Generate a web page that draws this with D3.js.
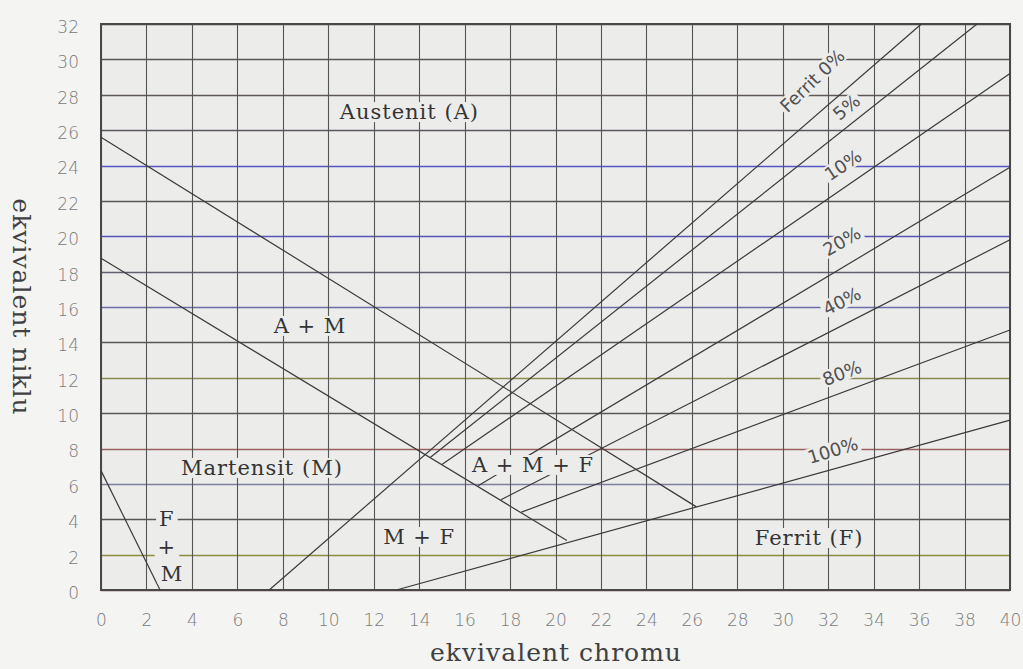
<!DOCTYPE html>
<html>
<head>
<meta charset="utf-8">
<script src="https://cdn.jsdelivr.net/npm/d3@7"></script>
<style>
  html, body { margin: 0; padding: 0; background: #f4f4f3; }
  svg { display: block; }
</style>
</head>
<body>
<svg id="chart" width="1023" height="669"></svg>
<script>
// Axis ticks
const xTicks = [0, 2, 4, 6, 8, 10, 12, 14, 16, 18, 20, 22, 24, 26, 28, 30, 32, 34, 36, 38, 40];
const yTicks = [0, 2, 4, 6, 8, 10, 12, 14, 16, 18, 20, 22, 24, 26, 28, 30, 32];

// Phase boundaries (chromium equivalent, nickel equivalent)
const austeniteBoundary = [[0, 25.6], [26.2, 4.7]];   // A | A+M
const martensiteBoundary = [[0, 18.75], [20.5, 2.8]]; // A+M | M
const ferriteMartensiteBoundary = [[0, 6.75], [2.6, 0]]; // M | F+M

// Iso-ferrite lines
const ferriteNames = ["0%", "5%", "10%", "20%", "40%", "80%", "100%"];
const ferriteStart = [[7.4, 0], [14.5, 7.5], [15.0, 7.1], [16.6, 5.9], [17.6, 5.1], [18.5, 4.4], [13.0, 0]];
const ferriteEnd = [[36.1, 32], [38.55, 32], [40, 29.2], [40, 23.9], [40, 19.8], [40, 14.7], [40, 9.6]];

// Region labels
const regionNames = ["Austenit (A)", "A + M", "Martensit (M)", "A + M + F", "M + F", "Ferrit (F)", "F", "+", "M"];
const regionPos = [[13.57, 27.02], [9.2, 14.93], [7.08, 6.9], [19.01, 7.07], [14.0, 3.0], [31.16, 2.94], [2.9, 4.0], [2.9, 2.43], [3.12, 0.9]];

// Iso-ferrite line labels
const ferriteLabels = ["Ferrit 0%", "5%", "10%", "20%", "40%", "80%", "100%"];
const ferriteLabelPos = [[31.3, 28.8], [32.8, 27.3], [32.65, 24.03], [32.6, 19.73], [32.6, 16.34], [32.6, 12.27], [32.2, 7.9]];
const ferriteLabelAngle = [-44, -40, -34, -30, -27, -21, -17];

const svg = d3.select("#chart");
const plotBg = "#ececeb";

const x = d3.scaleLinear().domain([0, 40]).range([101, 1010]);
const y = d3.scaleLinear().domain([0, 32]).range([590, 24]);
// snap grid lines to the pixel grid so thin tinted lines stay crisp
const crisp = v => Math.round(v) + 0.5;

// plot area
svg.append("rect")
  .attr("x", x(0)).attr("y", y(32))
  .attr("width", x(40) - x(0)).attr("height", y(0) - y(32))
  .attr("fill", plotBg);

// horizontal grid, slightly tinted per line
const hColors = ["#7a3444", "#8c8a3c", "#555555", "#7c7c9c", "#9a6060", "#575757", "#8c8a50",
                 "#575757", "#6c6ca8", "#625e72", "#5555b8", "#575757", "#5454c4", "#5c565e",
                 "#5e5856", "#575757", "#444444"];
svg.append("g").selectAll("line").data(yTicks).join("line")
  .attr("x1", x(0)).attr("x2", x(40))
  .attr("y1", d => crisp(y(d))).attr("y2", d => crisp(y(d)))
  .attr("stroke", (d, i) => hColors[i])
  .attr("stroke-width", 1.5);

// vertical grid
svg.append("g").selectAll("line").data(xTicks).join("line")
  .attr("x1", d => crisp(x(d))).attr("x2", d => crisp(x(d)))
  .attr("y1", y(0)).attr("y2", y(32))
  .attr("stroke", "#555")
  .attr("stroke-width", 1.1);

// frame
svg.append("rect")
  .attr("x", x(0)).attr("y", y(32))
  .attr("width", x(40) - x(0)).attr("height", y(0) - y(32))
  .attr("fill", "none").attr("stroke", "#484848").attr("stroke-width", 2);

// boundary and iso-ferrite lines
const line = d3.line().x(d => x(d[0])).y(d => y(d[1]));
const curves = [austeniteBoundary, martensiteBoundary, ferriteMartensiteBoundary]
  .concat(ferriteNames.map((n, i) => [ferriteStart[i], ferriteEnd[i]]));
svg.append("g").selectAll("path").data(curves).join("path")
  .attr("d", line)
  .attr("fill", "none")
  .attr("stroke", "#3a3a3a")
  .attr("stroke-width", 1.2);

// label with a background patch that hides grid beneath
function boxedLabel(g, text, px, py, angle, font, size, fill, pad, spacing) {
  const grp = g.append("g").attr("transform", `translate(${px},${py}) rotate(${angle})`);
  const bg = grp.append("rect").attr("fill", plotBg);
  const t = grp.append("text")
    .attr("text-anchor", "middle")
    .attr("dominant-baseline", "central")
    .attr("font-family", font)
    .attr("font-size", size)
    .attr("letter-spacing", spacing)
    .attr("fill", fill)
    .text(text);
  const b = t.node().getBBox();
  bg.attr("x", b.x - pad).attr("y", b.y + 2).attr("width", b.width + 2 * pad).attr("height", b.height - 4);
}

const labels = svg.append("g");
regionNames.forEach((n, i) => {
  boxedLabel(labels, n, x(regionPos[i][0]), y(regionPos[i][1]), 0,
    "'DejaVu Serif', serif", 21, "#333", 3, 1);
});
ferriteLabels.forEach((n, i) => {
  boxedLabel(labels, n, x(ferriteLabelPos[i][0]), y(ferriteLabelPos[i][1]), ferriteLabelAngle[i],
    "'DejaVu Sans', sans-serif", 18, "#505050", 2, 0);
});

// axes
const xAxis = d3.axisBottom(x).tickValues(xTicks).tickSize(0).tickPadding(0);
const gx = svg.append("g").attr("transform", `translate(0,${y(0) + 36})`).call(xAxis);
gx.select(".domain").remove();
gx.selectAll("text").attr("font-family", "'DejaVu Sans', sans-serif").attr("font-weight", 200)
  .attr("font-size", 17).attr("fill", "#7a7a7a").attr("dy", "0");

const yAxis = d3.axisLeft(y).tickValues(yTicks).tickSize(0).tickPadding(0);
const gy = svg.append("g").attr("transform", `translate(${x(0) - 22},3)`).call(yAxis);
gy.select(".domain").remove();
gy.selectAll("text").attr("font-family", "'DejaVu Sans', sans-serif").attr("font-weight", 200)
  .attr("font-size", 17).attr("fill", "#7a7a7a");

// axis titles
svg.append("text")
  .attr("x", 556).attr("y", 661)
  .attr("text-anchor", "middle")
  .attr("font-family", "'DejaVu Serif', serif")
  .attr("font-size", 25)
  .attr("letter-spacing", 1)
  .attr("fill", "#404040")
  .text("ekvivalent chromu");

svg.append("text")
  .attr("transform", "translate(13,307) rotate(90)")
  .attr("text-anchor", "middle")
  .attr("font-family", "'DejaVu Serif', serif")
  .attr("font-size", 25)
  .attr("letter-spacing", 1)
  .attr("fill", "#404040")
  .text("ekvivalent niklu");
</script>
</body>
</html>
